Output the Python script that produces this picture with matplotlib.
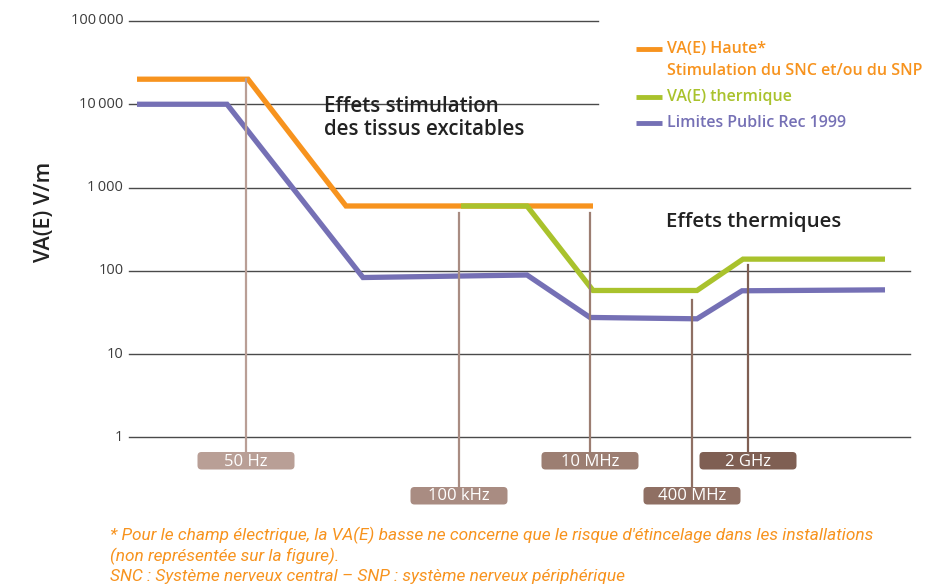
import matplotlib
matplotlib.use("Agg")
import matplotlib.pyplot as plt
from matplotlib.patches import FancyBboxPatch

plt.rcParams['font.family'] = ['Open Sans', 'DejaVu Sans']

# schematic frequency positions (not a real scale) and field values V/m
orange_pos = [137, 248, 346, 593]
orange_val = [20000, 20000, 600, 600]
green_pos = [461, 527, 593, 697, 743, 885]
green_val = [600, 600, 58, 58, 138, 138]
purple_pos = [137, 227, 363, 527, 590, 697, 742, 885]
purple_val = [10000, 10000, 83, 89, 27.5, 26.5, 57.5, 59]

freq_labels = ['50 Hz', '100 kHz', '10 MHz', '400 MHz', '2 GHz']
freq_pos = [246, 459, 590, 692, 748]
freq_top = [20000, 490, 500, 45, 117]
freq_row = [0, 1, 0, 1, 0]
freq_colors = ['#b99f96', '#a98c82', '#9c7e72', '#8f6f63', '#7f5f53']

grid_vals = [1, 10, 100, 1000, 10000, 100000]
grid_text = ['1', '10', '100', '1\u2009000', '10\u2009000', '100\u2009000']
grid_end = [910, 910, 910, 910, 598, 598]

ORANGE = '#f7931e'
GREEN = '#a9c22c'
PURPLE = '#7570b5'

W, H = 927, 585
fig = plt.figure(figsize=(W / 100, H / 100), dpi=100)
x0, x1 = 129.3, 910.7
yb, yt = 437.3, 21
ax = fig.add_axes([x0 / W, (H - yb) / H, (x1 - x0) / W, (yb - yt) / H])
ax.set_yscale('log')
ax.set_xlim(x0, x1)
ax.set_ylim(1, 100000)
ax.axis('off')

# overlay in pixel coords for annotations
ov = fig.add_axes([0, 0, 1, 1], zorder=5)
ov.set_xlim(0, W)
ov.set_ylim(H, 0)
ov.axis('off')

for v, t, e in zip(grid_vals, grid_text, grid_end):
    ax.plot([x0, e], [v, v], color='#4a4a4a', lw=1.0, zorder=1, clip_on=False)
    ax.text(x0 - 6, v, t, ha='right', va='center', fontsize=10.5, color='#3c3c3c')

lw = 3.8
ax.plot(orange_pos, orange_val, color=ORANGE, lw=lw, solid_joinstyle='miter', solid_capstyle='butt', zorder=2)
ax.plot(green_pos, green_val, color=GREEN, lw=lw, solid_joinstyle='miter', solid_capstyle='butt', zorder=3)
ax.plot(purple_pos, purple_val, color=PURPLE, lw=lw, solid_joinstyle='miter', solid_capstyle='butt', zorder=3)

# frequency markers and labels
row_y = [452, 487]
for lab, p, top, r, c in zip(freq_labels, freq_pos, freq_top, freq_row, freq_colors):
    bottom = 10 ** ((yb - row_y[r]) / ((yb - yt) / 5))
    ax.plot([p, p], [top, bottom], color=c, lw=1.6, zorder=4, clip_on=False)
    box = FancyBboxPatch((p - 48.5, row_y[r]), 97, 17.5,
                         boxstyle='round,pad=0,rounding_size=4', fc=c, ec='none')
    ov.add_patch(box)
    ov.text(p, row_y[r] + 9.5, lab, ha='center', va='center', color='white', fontsize=12)

ov.text(324, 118, 'Effets stimulation\ndes tissus excitables', ha='left', va='center',
        fontsize=14.8, color='#222222', fontweight='semibold', linespacing=1.1)
ov.text(666, 222, 'Effets thermiques', ha='left', va='center',
        fontsize=14.7, color='#222222', fontweight='semibold')

ov.text(45, 212, 'VA(E) V/m', rotation=90, ha='center', va='center',
        fontsize=15.5, color='#222222', fontweight='semibold')

# legend
leg = [(49, ORANGE, 'VA(E) Haute*'), (97, GREEN, 'VA(E) thermique'), (123, PURPLE, 'Limites Public Rec 1999')]
for y, c, t in leg:
    ov.plot([636, 662], [y, y], color=c, lw=3.5, solid_capstyle='butt')
    ov.text(667, y, t, ha='left', va='center', color=c, fontsize=11.5, fontweight='semibold')
ov.text(667, 71, 'Stimulation du SNC et/ou du SNP', ha='left', va='center', color=ORANGE,
        fontsize=11.5, fontweight='semibold')

foot = ["* Pour le champ électrique, la VA(E) basse ne concerne que le risque d'étincelage dans les installations",
        "(non représentée sur la figure).",
        "SNC : Système nerveux central – SNP : système nerveux périphérique"]
for i, t in enumerate(foot):
    ov.text(110, 535 + i * 21, t, ha='left', va='center', color=ORANGE, fontsize=12.4,
            style='italic', family=['Roboto', 'DejaVu Sans'])

fig.savefig('out.png', dpi=100)
